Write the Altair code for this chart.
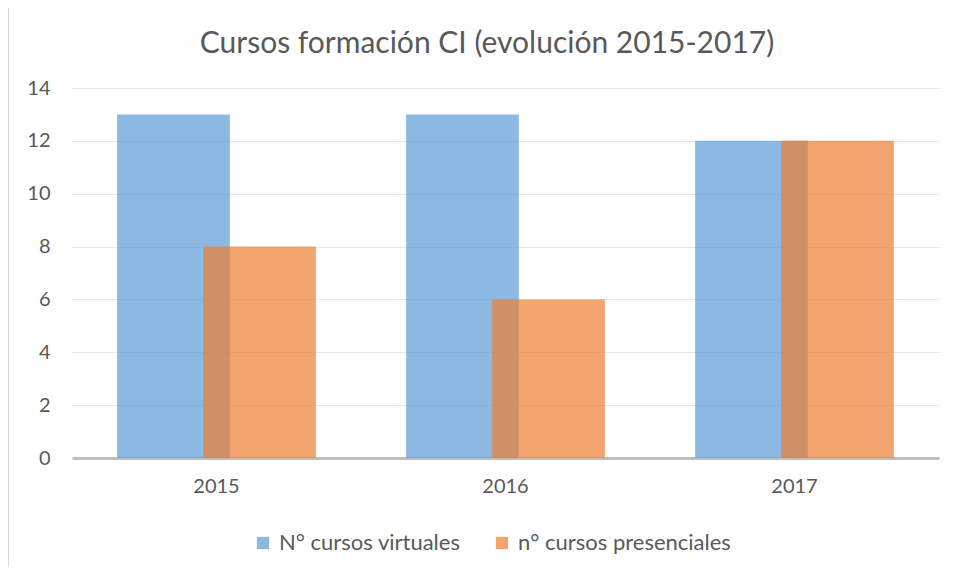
import altair as alt
import pandas as pd

years = ["2015", "2016", "2017"]
virtuales = [13, 13, 12]
presenciales = [8, 6, 12]
series_names = ["N° cursos virtuales", "n° cursos presenciales"]
series_colors = ["#5B9BD5", "#ED7D31"]
y_ticks = [0, 2, 4, 6, 8, 10, 12, 14]
title_text = "Cursos formación CI (evolución 2015-2017)"

rows = []
for yr, v, p in zip(years, virtuales, presenciales):
    rows.append({"year": yr, "serie": series_names[0], "valor": v})
    rows.append({"year": yr, "serie": series_names[1], "valor": p})
df = pd.DataFrame(rows)

FONT = "Lato"
TXT = "#595959"

color = alt.Color(
    "serie:N",
    scale=alt.Scale(domain=series_names, range=series_colors),
    legend=alt.Legend(
        title=None,
        orient="none",
        direction="horizontal",
        legendX=180,
        legendY=444,
        symbolType="square",
        symbolSize=150,
        symbolOpacity=0.7,
        symbolStrokeWidth=0,
        labelFont=FONT,
        labelFontSize=22,
        labelColor=TXT,
        labelOffset=5,
        columnPadding=30,
        labelLimit=400,
    ),
)

x = alt.X(
    "year:N",
    sort=years,
    title=None,
    scale=alt.Scale(paddingInner=0, paddingOuter=0),
    axis=alt.Axis(
        labelAngle=0,
        labelFont=FONT,
        labelFontSize=20,
        labelColor=TXT,
        labelPadding=18,
        ticks=False,
        domain=True,
        domainColor="#BFBFBF",
        domainWidth=3,
        grid=False,
    ),
)
y = alt.Y(
    "valor:Q",
    title=None,
    scale=alt.Scale(domain=[0, 14], nice=False),
    axis=alt.Axis(
        values=y_ticks,
        labelFont=FONT,
        labelFontSize=20,
        labelColor=TXT,
        labelPadding=22,
        ticks=False,
        domain=False,
        grid=True,
        gridColor="#E6E6E6",
        gridWidth=1,
    ),
)

base = alt.Chart(df)
b1 = base.transform_filter(alt.datum.serie == series_names[0]).mark_bar(
    width=alt.RelativeBandSize(0.39), xOffset=-43, opacity=0.7
).encode(x=x, y=y, color=color)
b2 = base.transform_filter(alt.datum.serie == series_names[1]).mark_bar(
    width=alt.RelativeBandSize(0.39), xOffset=43, opacity=0.7
).encode(x=x, y=y, color=color)

one = pd.DataFrame({"t": [title_text]})
border = alt.Chart(one).mark_rule(color="#D9D9D9", strokeWidth=1).encode(
    x=alt.value(-63.5), y=alt.value(-80), y2=alt.value(480)
)
title = alt.Chart(one).mark_text(
    font=FONT, fontSize=30, color=TXT, align="center", baseline="alphabetic"
).encode(text="t:N", x=alt.value(415), y=alt.value(-35))

chart = alt.layer(border, title, b1, b2).properties(
    width=867,
    height=370,
    background="white",
    padding={"left": 64, "top": 80, "right": 14, "bottom": 109},
    autosize=alt.AutoSizeParams(type="none"),
).configure_view(strokeWidth=0)

chart.save("out.html", embed_options={"renderer": "svg", "actions": False})
